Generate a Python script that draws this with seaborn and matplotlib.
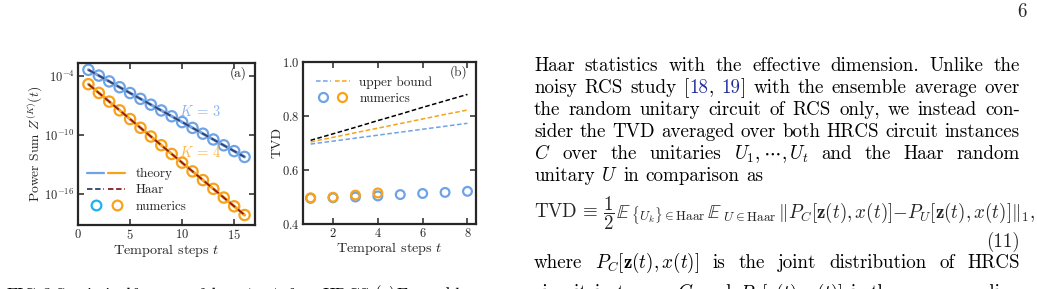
import re
import math
import matplotlib
matplotlib.use("Agg")
import matplotlib.pyplot as plt
import seaborn as sns
from matplotlib.lines import Line2D
from matplotlib.legend_handler import HandlerTuple
from matplotlib.ticker import FuncFormatter, NullLocator

# panel (a): power sums
steps_a = list(range(1, 17))
power_k3 = [4.07e-4, 1.05e-4, 2.69e-5, 6.92e-6, 1.78e-6, 4.57e-7, 1.17e-7, 3.02e-8,
            7.76e-9, 2.0e-9, 5.13e-10, 1.32e-10, 3.39e-11, 8.71e-12, 2.24e-12, 5.75e-13]
power_k4 = [1.41e-5, 1.84e-6, 2.39e-7, 3.10e-8, 4.04e-9, 5.25e-10, 6.82e-11, 8.87e-12,
            1.15e-12, 1.50e-13, 1.95e-14, 2.54e-15, 3.30e-16, 4.29e-17, 5.57e-18, 7.24e-19]
theory_k3 = power_k3
theory_k4 = power_k4
haar_k3 = power_k3
haar_k4 = power_k4

# panel (b): TVD
steps_b = list(range(1, 9))
bound_black = [0.710, 0.734, 0.758, 0.783, 0.807, 0.832, 0.856, 0.880]
bound_orange = [0.704, 0.721, 0.738, 0.755, 0.772, 0.789, 0.806, 0.822]
bound_blue = [0.696, 0.707, 0.718, 0.729, 0.740, 0.751, 0.762, 0.773]
tvd_blue = [0.495, 0.497, 0.500, 0.504, 0.509, 0.513, 0.517, 0.521]
steps_b_orange = [1, 2, 3, 4]
tvd_orange = [0.497, 0.499, 0.507, 0.515]

BLUE = "#6fa3e6"
ORANGE = "#f7a21b"
NAVY = "#34406a"
DARKRED = "#8e1b1b"
CITE = "#1f2a9c"
LAB = 10.2

sns.set_theme(style="ticks")
plt.rcParams.update({
    "font.family": "serif",
    "font.serif": ["cmr10"],
    "mathtext.fontset": "cm",
    "axes.formatter.use_mathtext": True,
    "axes.unicode_minus": False,
    "xtick.direction": "in", "ytick.direction": "in",
    "xtick.top": True, "ytick.right": True,
    "xtick.major.size": 4, "ytick.major.size": 4,
    "xtick.major.width": 1.1, "ytick.major.width": 1.1,
    "xtick.major.pad": 2.5, "ytick.major.pad": 2.5,
    "axes.linewidth": 1.6,
    "font.size": 9,
    "xtick.labelsize": 9, "ytick.labelsize": 9,
})

W, H = 1037, 289
fig = plt.figure(figsize=(W / 100, H / 100), dpi=100)
renderer = fig.canvas.get_renderer()


def px_axes(x0, y0, x1, y1):
    return fig.add_axes([x0 / W, 1 - y1 / H, (x1 - x0) / W, (y1 - y0) / H])


# ---------- panel (a)
ax = px_axes(78, 63, 255, 225)
ax.set_yscale("log")
sns.lineplot(x=steps_a, y=theory_k3, color=BLUE, lw=2.2, ax=ax)
sns.lineplot(x=steps_a, y=theory_k4, color=ORANGE, lw=2.2, ax=ax)
sns.lineplot(x=steps_a, y=haar_k3, color=NAVY, lw=1.3, linestyle=(0, (4, 2)), ax=ax)
sns.lineplot(x=steps_a, y=haar_k4, color=DARKRED, lw=1.3, linestyle=(0, (4, 2)), ax=ax)
sns.scatterplot(x=steps_a, y=power_k3, marker="o", s=55, facecolor="none",
                edgecolor=BLUE, linewidth=1.6, ax=ax)
sns.scatterplot(x=steps_a, y=power_k4, marker="o", s=55, facecolor="none",
                edgecolor=ORANGE, linewidth=1.6, ax=ax)
ax.set_xlim(0, 17)
ax.set_ylim(7e-20, 2e-3)
ax.set_xticks([0, 5, 10, 15])
ax.set_yticks([1e-16, 1e-10, 1e-4])
ax.yaxis.set_minor_locator(NullLocator())
ax.yaxis.set_major_formatter(FuncFormatter(lambda v, p: r"$10^{%d}$" % round(math.log10(v))))
ax.set_xlabel(r"Temporal steps $t$", labelpad=0, fontsize=LAB)
ax.set_ylabel(r"Power Sum $Z^{(K)}(t)$", labelpad=-0.5, fontsize=9.8)
ax.text(0.905, 0.935, "(a)", transform=ax.transAxes, ha="center", va="center", fontsize=9.5)
ax.text(0.69, 0.70, r"$K\,=\,3$", transform=ax.transAxes, ha="center", va="center",
        color="#8db6ef", fontsize=10.5)
ax.text(0.69, 0.45, r"$K\,=\,4$", transform=ax.transAxes, ha="center", va="center",
        color="#f9b84a", fontsize=10.5)

h_theory = (Line2D([], [], color=BLUE, lw=1.6), Line2D([], [], color=ORANGE, lw=1.6))
h_haar = (Line2D([], [], color=NAVY, lw=1.3, ls=(0, (3, 1.5))),
          Line2D([], [], color=DARKRED, lw=1.3, ls=(0, (3, 1.5))))
h_num = (Line2D([], [], color="#20b0f0", marker="o", ls="none", mfc="none", mew=1.6, ms=7),
         Line2D([], [], color=ORANGE, marker="o", ls="none", mfc="none", mew=1.6, ms=7))
ax.legend([h_theory, h_haar, h_num], ["theory", "Haar", "numerics"],
          handler_map={tuple: HandlerTuple(ndivide=None, pad=0.3)},
          loc="lower left", bbox_to_anchor=(0.0, 0.02), frameon=False,
          handlelength=2.9, handletextpad=0.8, labelspacing=0.3, fontsize=9.5,
          borderaxespad=0.3)

# ---------- panel (b)
bx = px_axes(303, 62, 476, 224)
dash = (0, (3, 1.6))
sns.lineplot(x=steps_b, y=bound_black, color="black", lw=1.1, linestyle=dash, ax=bx)
sns.lineplot(x=steps_b, y=bound_orange, color=ORANGE, lw=1.1, linestyle=dash, ax=bx)
sns.lineplot(x=steps_b, y=bound_blue, color=BLUE, lw=1.1, linestyle=dash, ax=bx)
sns.scatterplot(x=steps_b, y=tvd_blue, marker="o", s=40, facecolor="none",
                edgecolor=BLUE, linewidth=1.6, ax=bx)
sns.scatterplot(x=steps_b_orange, y=tvd_orange, marker="o", s=40, facecolor="none",
                edgecolor=ORANGE, linewidth=1.6, ax=bx)
bx.set_xlim(0.66, 8.38)
bx.set_ylim(0.4, 1.0)
bx.set_xticks([2, 4, 6, 8])
bx.set_yticks([0.4, 0.6, 0.8, 1.0])
bx.set_xlabel(r"Temporal steps $t$", labelpad=0, fontsize=LAB)
bx.set_ylabel("TVD", labelpad=-1, fontsize=10)
bx.text(0.90, 0.935, "(b)", transform=bx.transAxes, ha="center", va="center", fontsize=9.5)
h_ub = (Line2D([], [], color=BLUE, lw=1.1, ls=(0, (3, 1.6))),
        Line2D([], [], color=ORANGE, lw=1.1, ls=(0, (3, 1.6))))
h_nb = (Line2D([], [], color=BLUE, marker="o", ls="none", mfc="none", mew=1.6, ms=6.5),
        Line2D([], [], color=ORANGE, marker="o", ls="none", mfc="none", mew=1.6, ms=6.5))
bx.legend([h_ub, h_nb], ["upper bound", "numerics"],
          handler_map={tuple: HandlerTuple(ndivide=None, pad=0.3)},
          loc="upper left", bbox_to_anchor=(0.02, 0.97), frameon=False,
          handlelength=2.6, handletextpad=0.7, labelspacing=0.3, fontsize=9.5,
          borderaxespad=0.3)

# ---------- page text
body_lines = [
    "Haar statistics with the effective dimension. Unlike the",
    "noisy RCS study [@18@, @19@] with the ensemble average over",
    "the random unitary circuit of RCS only, we instead con-",
    "sider the TVD averaged over both HRCS circuit instances",
    r"$C$ over the unitaries $U_1,\cdots,U_t$ and the Haar random",
    r"unitary $U$ in comparison as",
]
body_y = [71, 93, 115, 137, 159, 181]
where_line = r"where $P_C[\mathbf{z}(t),x(t)]$ is the joint distribution of HRCS"
cut_line = r"circuit instances $C$ and $P_U[\mathbf{z}(t),x(t)]$ is the corresponding"
caption_line = "FIG. 3. Statistical features of the outputs from HRCS. (a) Ensemble av-"
equation = [
    (r"$\mathrm{TVD}\,\equiv\,\dfrac{1}{2}\,$", "cm"),
    (r"$\mathbb{E}$", "stix"),
    (r"${}_{\{U_k\}\in\mathrm{Haar}}\,$", "cm"),
    (r"$\mathbb{E}$", "stix"),
    (r"${}_{U\in\mathrm{Haar}}\,\Vert P_C[\mathbf{z}(t),x(t)]{-}P_U[\mathbf{z}(t),x(t)]\Vert_1,$", "cm"),
]


def text_w(s, size, fam="cm"):
    t = fig.text(0, 0, s, fontsize=size, math_fontfamily=fam)
    w = t.get_window_extent(renderer).width
    t.remove()
    return w


def split_words(line):
    words = []
    for w in line.split(" "):
        parts = re.split(r"@(\d+)@", w)
        words.append([(p, CITE if i % 2 else "black") for i, p in enumerate(parts) if p])
    return words


def natural(line, size):
    words = split_words(line)
    sp = 0.333 * size * 100 / 72
    return sum(text_w(p, size) for w in words for p, _ in w) + sp * (len(words) - 1)


X0, X1 = 534, 1020
BODY = 10 * (X1 - X0) / natural(body_lines[3], 10)


def draw_line(line, y, size=BODY, justify=True, x0=X0, x1=X1):
    words = split_words(line)
    widths = [[text_w(p, size) for p, _ in w] for w in words]
    total = sum(sum(ws) for ws in widths)
    gap = (x1 - x0 - total) / (len(words) - 1) if justify else 0.333 * size * 100 / 72
    x = x0
    for w, ws in zip(words, widths):
        for (p, c), pw in zip(w, ws):
            fig.text(x / W, 1 - y / H, p, fontsize=size, color=c, va="baseline", ha="left")
            x += pw
        x += gap


for i, (line, y) in enumerate(zip(body_lines, body_y)):
    draw_line(line, y, justify=(i < len(body_lines) - 1))

# displayed equation, stretched to the width it has on the page
eq_w = sum(text_w(s, BODY, f) for s, f in equation)
eq_size = BODY * (1031 - X0) / eq_w
x = X0
for s, f in equation:
    fig.text(x / W, 1 - 218 / H, s, fontsize=eq_size, va="baseline", ha="left", math_fontfamily=f)
    x += text_w(s, eq_size, f) + 1
fig.text(X1 / W, 1 - 247 / H, "(11)", fontsize=BODY, va="baseline", ha="right")
draw_line(where_line, 268)
draw_line(cut_line, 298.5)
draw_line(caption_line, 299.5, size=BODY * 0.9, x0=7, x1=492)
fig.text(1027 / W, 1 - 17 / H, "6", fontsize=BODY, va="baseline", ha="right")

fig.savefig("out.png", dpi=100)
